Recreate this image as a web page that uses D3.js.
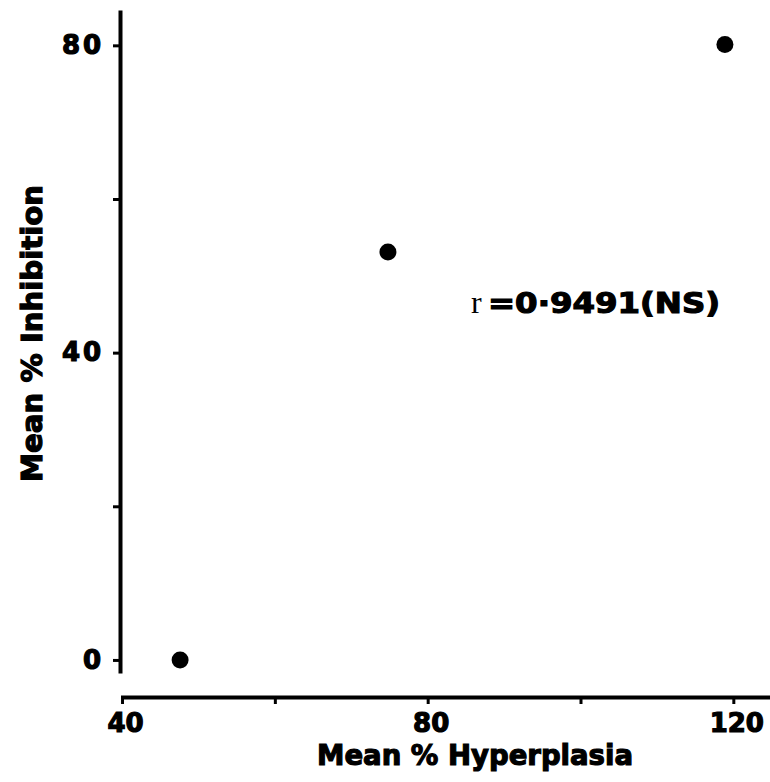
<!DOCTYPE html>
<html>
<head>
<meta charset="utf-8">
<script src="https://cdn.jsdelivr.net/npm/d3@7"></script>
<style>
  body { margin: 0; background: #fff; }
  svg { display: block; }
  .axis text { font-family: "DejaVu Sans", sans-serif; font-weight: bold; fill: #000; stroke: #000; stroke-width: 1.2px; }
  .heavy { font-family: "DejaVu Sans", sans-serif; font-weight: bold; fill: #000; stroke: #000; stroke-width: 1.2px; }
</style>
</head>
<body>
<div id="chart"></div>
<script>
// data
var hyperplasia = [47.6, 74.8, 118.9];   // mean % hyperplasia (x)
var inhibition  = [0, 53.1, 80.1];       // mean % inhibition (y)
var xTicks = [40, 60, 80, 100, 120];
var xLabels = [40, 80, 120];
var yTicks = [0, 20, 40, 60, 80];
var yLabels = [0, 40, 80];

var width = 770, height = 782;

var svg = d3.select('#chart').append('svg')
    .attr('width', width)
    .attr('height', height);

var x = d3.scaleLinear().domain([39.8, 124.8]).range([120.5, 770]);
var y = d3.scaleLinear().domain([-1.7, 84.6]).range([673, 10]);

// y axis
var yAxis = svg.append('g')
    .attr('class', 'axis')
    .attr('transform', 'translate(120,0)')
    .call(d3.axisLeft(y)
        .tickValues(yTicks)
        .tickSize(7)
        .tickSizeOuter(0)
        .tickPadding(12)
        .tickFormat(function(d) { return yLabels.indexOf(d) >= 0 ? d : ''; }));
yAxis.select('.domain').attr('stroke', '#000').attr('stroke-width', 4);
yAxis.selectAll('.tick line').attr('stroke', '#000').attr('stroke-width', 3);
yAxis.selectAll('.tick text').style('font-size', '26px').attr('textLength', function(d) { return String(d).length * 19.5; });

// x axis
var xAxis = svg.append('g')
    .attr('class', 'axis')
    .attr('transform', 'translate(0,697)')
    .call(d3.axisBottom(x)
        .tickValues(xTicks)
        .tickSize(7)
        .tickSizeOuter(0)
        .tickPadding(10)
        .tickFormat(function(d) { return xLabels.indexOf(d) >= 0 ? d : ''; }));
xAxis.select('.domain').attr('stroke', '#000').attr('stroke-width', 4);
xAxis.selectAll('.tick line').attr('stroke', '#000').attr('stroke-width', 3);
xAxis.selectAll('.tick text').style('font-size', '26px').attr('dx', 3);

// points
svg.selectAll('circle.pt')
    .data(hyperplasia)
    .enter().append('circle')
    .attr('class', 'pt')
    .attr('cx', function(d) { return x(d); })
    .attr('cy', function(d, i) { return y(inhibition[i]); })
    .attr('r', 8.5)
    .attr('fill', '#000');

// axis titles
svg.append('text')
    .attr('class', 'heavy')
    .attr('x', 317)
    .attr('y', 765)
    .attr('textLength', 316)
    .attr('lengthAdjust', 'spacingAndGlyphs')
    .style('font-size', '29px')
    .text('Mean % Hyperplasia');

svg.append('text')
    .attr('class', 'heavy')
    .attr('transform', 'translate(42,482) rotate(-90)')
    .attr('textLength', 297)
    .attr('lengthAdjust', 'spacingAndGlyphs')
    .style('font-size', '29px')
    .text('Mean % Inhibition');

// correlation note
svg.append('text')
    .attr('x', 471)
    .attr('y', 313)
    .style('font-family', '"Liberation Serif", serif')
    .style('font-size', '32px')
    .text('r');
svg.append('text')
    .attr('class', 'heavy')
    .attr('x', 488)
    .attr('y', 313)
    .attr('textLength', 232)
    .attr('lengthAdjust', 'spacingAndGlyphs')
    .style('font-size', '29px')
    .text('=0·9491(NS)');
</script>
</body>
</html>
